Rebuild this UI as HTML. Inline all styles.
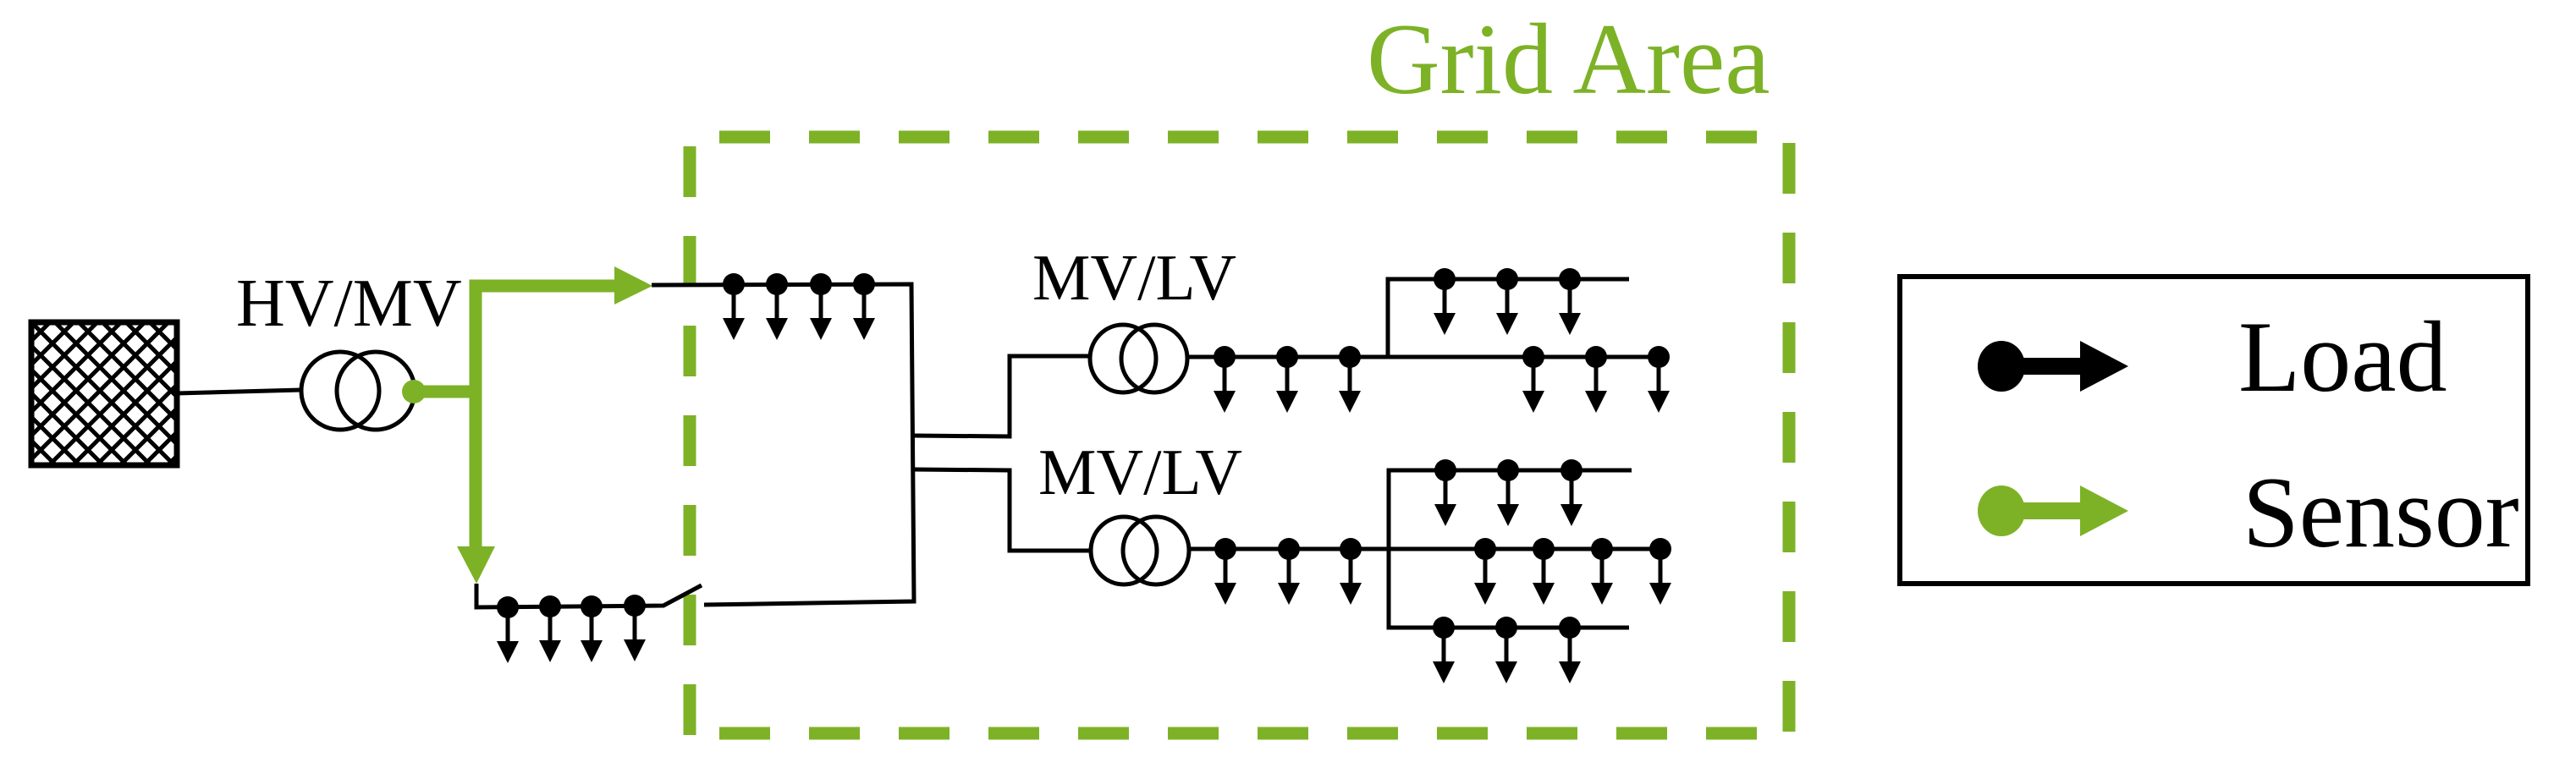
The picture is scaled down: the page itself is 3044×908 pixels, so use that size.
<!DOCTYPE html>
<html><head><meta charset="utf-8"><style>
html,body{margin:0;padding:0;background:#fff;}
svg{display:block;}
text{font-family:"Liberation Serif",serif;}
</style></head><body>
<svg width="3044" height="908" viewBox="0 0 3044 908" xmlns="http://www.w3.org/2000/svg">
<defs>
<pattern id="hx" width="28" height="28" patternUnits="userSpaceOnUse" x="34" y="378">
<path d="M-2 2 L2 -2 M0 28 L28 0 M26 30 L30 26 M-2 26 L2 30 M0 0 L28 28 M26 -2 L30 2" stroke="#000" stroke-width="5"/>
</pattern>
<g id="ld"><circle cx="0" cy="0" r="13" fill="#000"/><line x1="0" y1="0" x2="0" y2="42" stroke="#000" stroke-width="5"/><polygon points="-13,40 13,40 0,66" fill="#000"/></g>
</defs>
<g fill="none" stroke="#7db227" stroke-width="15">
<line x1="850" y1="162" x2="2114" y2="162" stroke-dasharray="60 46"/>
<line x1="850" y1="1049" x2="2114" y2="1049" stroke-dasharray="60 46" transform="translate(0,-182)"/>
<line x1="815" y1="173" x2="815" y2="870" stroke-dasharray="60 46"/>
<line x1="2114" y1="169" x2="2114" y2="870" stroke-dasharray="60 46"/>
</g>
<text x="1615" y="110" font-size="120" fill="#7db227">Grid Area</text>
<!-- source -->
<rect x="37" y="381" width="172" height="169" fill="url(#hx)" stroke="#000" stroke-width="7"/>
<g stroke="#000" stroke-width="5" fill="none">
<line x1="209" y1="465" x2="356" y2="461"/>
<ellipse cx="402" cy="462" rx="46" ry="46"/>
<ellipse cx="444" cy="462" rx="46" ry="46"/>
<!-- top MV feeder -->
<polyline points="770,337 1077,336 1080,711 832,715"/>
<!-- bottom feeder -->
<polyline points="563,690 563,718 784,716 829,692"/>
<!-- branches to MV/LV -->
<polyline points="1080,515 1193,516 1193,421 1288,421"/>
<polyline points="1080,555 1193,556 1193,651 1290,651"/>
<ellipse cx="1327" cy="424" rx="39" ry="40"/>
<ellipse cx="1364" cy="424" rx="39" ry="40"/>
<ellipse cx="1328" cy="651" rx="39" ry="40"/>
<ellipse cx="1366" cy="651" rx="39" ry="40"/>
<line x1="1403" y1="422" x2="1962" y2="422"/>
<polyline points="1640,422 1640,330 1925,330"/>
<line x1="1405" y1="649" x2="1962" y2="649"/>
<polyline points="1928,556 1641,556 1641,742 1925,742"/>
</g>
<!-- green sensor paths -->
<g fill="none" stroke="#7db227" stroke-width="15">
<line x1="489" y1="463" x2="563" y2="463"/>
<polyline points="728,338 562,338 562,648"/>
</g>
<circle cx="489" cy="463" r="14" fill="#7db227"/>
<polygon points="726,315 771,338 726,360" fill="#7db227"/>
<polygon points="540,646 585,646 563,690" fill="#7db227"/>
<!-- loads -->
<use href="#ld" x="867" y="336"/><use href="#ld" x="918" y="336"/><use href="#ld" x="970" y="336"/><use href="#ld" x="1021" y="336"/>
<use href="#ld" x="600" y="718"/><use href="#ld" x="650" y="717"/><use href="#ld" x="699" y="717"/><use href="#ld" x="750" y="716"/>
<use href="#ld" x="1447" y="422"/><use href="#ld" x="1521" y="422"/><use href="#ld" x="1595" y="422"/>
<use href="#ld" x="1707" y="330"/><use href="#ld" x="1781" y="330"/><use href="#ld" x="1855" y="330"/>
<use href="#ld" x="1812" y="422"/><use href="#ld" x="1886" y="422"/><use href="#ld" x="1960" y="422"/>
<use href="#ld" x="1448" y="649"/><use href="#ld" x="1523" y="649"/><use href="#ld" x="1596" y="649"/>
<use href="#ld" x="1708" y="556"/><use href="#ld" x="1782" y="556"/><use href="#ld" x="1857" y="556"/>
<use href="#ld" x="1755" y="649"/><use href="#ld" x="1824" y="649"/><use href="#ld" x="1893" y="649"/><use href="#ld" x="1962" y="649"/>
<use href="#ld" x="1706" y="742"/><use href="#ld" x="1780" y="742"/><use href="#ld" x="1855" y="742"/>
<text x="279" y="385" font-size="80">HV/MV</text>
<text x="1220" y="354" font-size="77">MV/LV</text>
<text x="1227" y="584" font-size="77">MV/LV</text>
<!-- legend -->
<rect x="2245" y="327" width="742" height="363" fill="none" stroke="#000" stroke-width="6"/>
<ellipse cx="2365" cy="433" rx="28" ry="30" fill="#000"/>
<rect x="2365" y="423" width="95" height="20" fill="#000"/>
<polygon points="2458,403 2515,433 2458,463" fill="#000"/>
<ellipse cx="2365" cy="604" rx="28" ry="30" fill="#7db227"/>
<rect x="2365" y="594" width="95" height="20" fill="#7db227"/>
<polygon points="2458,574 2515,604 2458,634" fill="#7db227"/>
<text x="2645" y="462" font-size="120">Load</text>
<text x="2650" y="646" font-size="120">Sensor</text>
</svg>
</body></html>
